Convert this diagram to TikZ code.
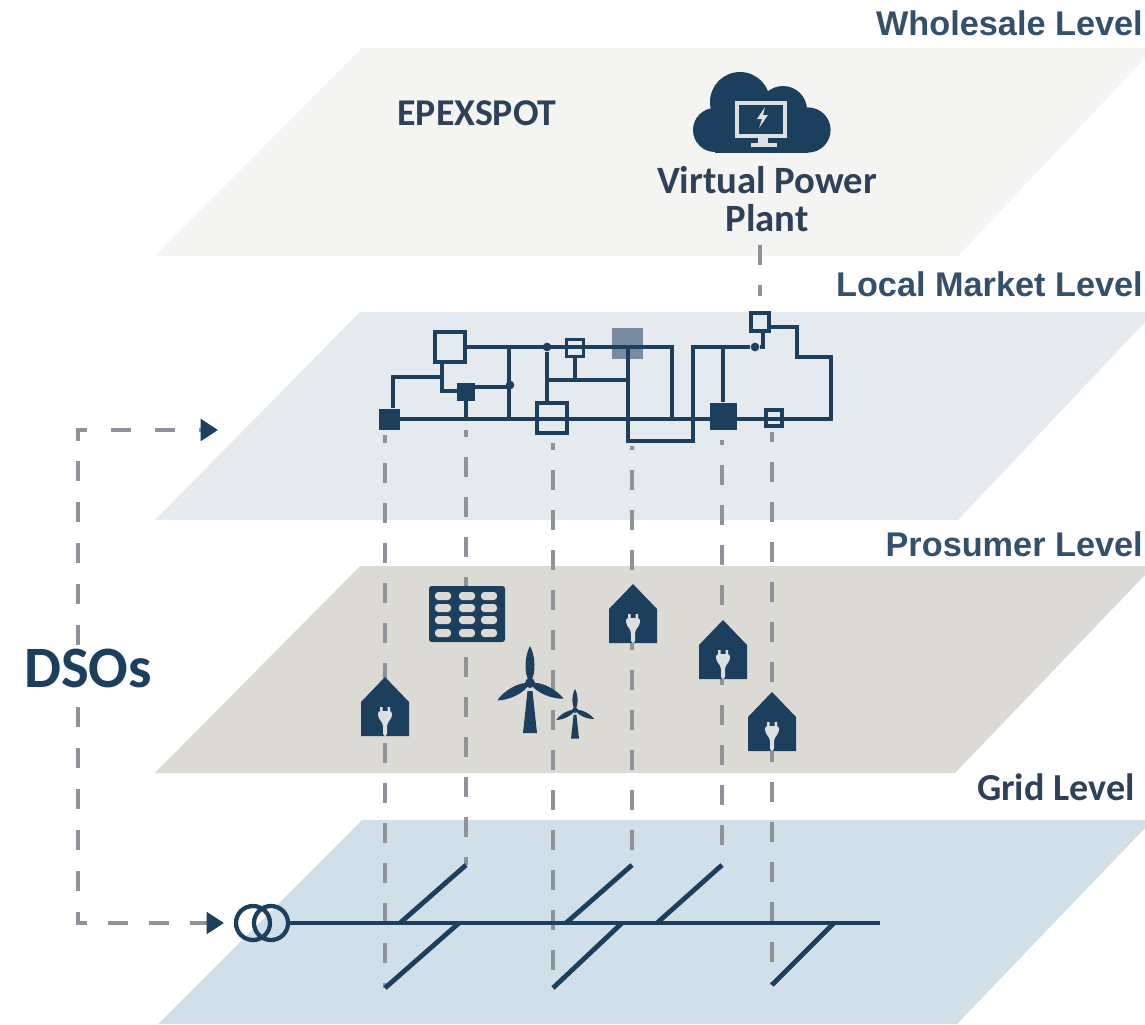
\documentclass[tikz,border=0pt]{standalone}
\usepackage{fontspec}
\setmainfont{Liberation Sans}
\newfontfamily\iconfont{Carlito}
\usetikzlibrary{arrows.meta,shapes}
\definecolor{navy}{HTML}{1D3F5E}
\definecolor{lvltext}{HTML}{34506A}
\definecolor{captext}{HTML}{2F4158}
\definecolor{dashgray}{HTML}{8F9399}
\definecolor{wholesale}{HTML}{F4F4F3}
\definecolor{market}{HTML}{E5EAEF}
\definecolor{prosumer}{HTML}{DCDAD4}
\definecolor{gridfill}{HTML}{D1DFE9}
\definecolor{plugc}{HTML}{DDE0E1}
\tikzset{
  lvl/.style={font=\bfseries\fontsize{25.7}{30}\selectfont,text=lvltext,anchor=base east,inner sep=0pt},
  cap/.style={font=\iconfont\bfseries\fontsize{#1}{#1}\selectfont,text=captext,inner sep=0pt},
  sq/.style={rectangle,minimum size=#1*0.75pt,inner sep=0pt},
  sqfill/.style={sq=#1,fill=navy},
  sqopen/.style={sq=#1,draw=navy,line width=2.4pt},
  dot/.style={circle,fill=navy,minimum size=6.5pt,inner sep=0pt},
  wire/.style={draw=navy,line width=2.4pt},
  bus/.style={draw=navy,line width=3.6pt},
  drop/.style={draw=dashgray,line width=3pt,dash pattern=on 15pt off 15pt},
  dso/.style={draw=dashgray,line width=3pt,dash pattern=on 15pt off 15.75pt},
  dsotip/.tip={Triangle[length=13pt,width=16pt,color=navy]},
  xfmr/.style={circle,draw=navy,line width=3.2pt,minimum size=34*0.75pt,inner sep=0pt},
  house/.pic={
    \fill[navy] (0,0) -- (24,25) -- (24,59) -- (-24,59) -- (-24,25) -- cycle;
    \fill[plugc,rounded corners=2pt] (-7,34) -- (7,34) -- (7,40) -- (2,47) -- (2,59) -- (-2,59) -- (-2,47) -- (-7,40) -- cycle;
    \fill[plugc] (-5,30) rectangle (-2.5,35) (2.5,30) rectangle (5,35);
  },
  turbine/.pic={
    \fill[navy] (-2.5,8) -- (2.5,8) -- (7,50) -- (-7,50) -- cycle;
    \foreach \r in {0,118,-115}{
      \fill[navy,rotate=\r] (0,0) .. controls (-7,-10) and (-5,-28) .. (0,-37) .. controls (5,-28) and (7,-10) .. (0,0) -- cycle;
    }
    \fill[navy] (0,0) circle[radius=5];
  }
}
\begin{document}
\begin{tikzpicture}[x=0.75pt,y=-0.75pt]
\useasboundingbox (0,0) rectangle (1145,1024);
% levels
\fill[wholesale] (362,48) -- (1145,48) -- (1145,58) -- (958,256) -- (155,256) -- cycle;
\fill[market] (360,312) -- (1145,312) -- (1145,322) -- (958,520) -- (155,520) -- cycle;
\fill[prosumer] (360,566) -- (1145,566) -- (1145,575) -- (955,773) -- (155,773) -- cycle;
\fill[gridfill] (362,820) -- (1145,820) -- (1145,828) -- (957,1024) -- (158,1024) -- cycle;
\node[lvl] (wl) at (1143,36) {Wholesale Level};
\node[lvl] (ml) at (1143,296) {Local Market Level};
\node[lvl] (pl) at (1143,556) {Prosumer Level};
\node[cap=28.6,anchor=base east] (gl) at (1135,800) {Grid Level};
\node[cap=28.4] (ep) at (477,113) {EPEXSPOT};
% drops from market to grid
\coordinate (t0) at (760,245);
\coordinate (v0) at (760,296);
\draw[drop] (t0) -- (v0);
\foreach \i/\x/\top/\bot/\ph in {1/385/435/988/9,2/466/430/865/9.75,3/553/443/988/9.75,4/632/446/865/12,5/722/440/865/11.25,6/772/432/985/7.5}{
  \coordinate (t\i) at (\x,\top);
  \coordinate (v\i) at (\x,\bot);
  \draw[drop,dash phase=\ph pt] (t\i) -- (v\i);
}
% grid
\node[xfmr] (x1) at (253,923) {};
\node[xfmr] (x2) at (271,923) {};
\coordinate (e) at (880,923);
\draw[bus] (x2.east) -- (e);
\foreach \i/\x in {2/400,4/566,5/657,1/459,3/622,6/834}{
  \coordinate (p\i) at (\x,923);
  \draw[bus] (p\i) -- (v\i);
}
% market network
\node[sqfill=21] (a) at (389,419) {};
\node[sqopen=30] (b) at (450,347) {};
\node[sqfill=18] (c) at (466,392) {};
\node[dot] (d) at (510,385) {};
\node[dot] (f) at (547,347) {};
\node[sqopen=17] (g) at (575,348) {};
\node[sqopen=30] (h) at (552,418) {};
\node[sq=31,fill=navy!55!market] (i) at (627,343) {};
\node[sqfill=27] (j) at (723,416) {};
\node[sqopen=16] (k) at (774,418) {};
\node[sqopen=18] (l) at (760,322) {};
\node[dot] (m) at (755,347) {};
\draw[wire] (a.east) -- (831,419) -- (831,357) -- (797,357) -- (797,327) -- (l.east |- 0,327);
\draw[wire] (b.east) -- (672,347) -- (672,419);
\draw[wire] (509,347) -- (509,419);
\draw[wire] (c.east |- 0,387) -- (d.center |- 0,387);
\draw[wire] (442,363) -- (442,391) -- (c.west |- 0,391);
\draw[wire] (442,377) -- (393,377) -- (393,408);
\draw[wire] (c) -- (466,419);
\draw[wire] (f) -- (547,401);
\draw[wire] (547,380) -- (628,380);
\draw[wire] (g.south) -- (575,380);
\draw[wire] (628,347) -- (628,441) -- (693,441) -- (693,347) -- (m);
\draw[wire] (j.north) -- (723,347);
\draw[wire] (m) -- (763,347) -- (763,332);
% prosumer icons
\foreach \x/\y in {385/677,633/584,723/620,772/692}{
  \pic at (\x,\y) {house};
}
\node[rectangle,rounded corners=2pt,fill=navy,minimum width=57pt,minimum height=42pt,inner sep=0pt] (s) at (467,614) {};
\foreach \x in {443,467,489}{
  \foreach \y in {596,608,620,633}{
    \fill[prosumer,rounded corners=2.5pt] (\x-8,\y-4) rectangle (\x+8,\y+4);
  }
}
\fill[prosumer] (530,683) circle[radius=7];
\pic at (530,683) {turbine};
\pic[scale=0.57] at (575,710) {turbine};
% cloud
\fill[navy] (740,102) circle[radius=30];
\fill[navy] (783,110) circle[radius=24];
\fill[navy] (808,130) circle[radius=22.6];
\fill[navy] (715,130) circle[radius=22];
\fill[navy] (715,110) rectangle (808,152.5);
\draw[plugc,line width=3pt] (737,103) rectangle (785,136);
\fill[plugc] (758,137) rectangle (768,144);
\fill[plugc] (751,143) rectangle (777,147);
\fill[plugc] (765,107) -- (757,119) -- (762,119) -- (759,128) -- (768,115) -- (763,115) -- cycle;
\node[cap=29,align=center,anchor=center] (vp) at (767,199) {Virtual Power\\Plant};
% DSOs
\coordinate (r1) at (218,430);
\coordinate (c1) at (78,430);
\coordinate (c0) at (78,441);
\coordinate (c3) at (78,461);
\coordinate (c2) at (78,923);
\coordinate (r2) at (224,923);
\draw[dso,dash pattern=on 15pt off 18pt,dash phase=12.75pt,{dsotip}-] (r1) -- (c1) -- (c0);
\draw[dso,-{dsotip}] (c3) -- (c2) -- (r2);
\node[cap=44,fill=white,inner xsep=2pt,inner ysep=0pt] (ds) at (88,668) {\textcolor{navy}{DSOs}};
\end{tikzpicture}
\end{document}
